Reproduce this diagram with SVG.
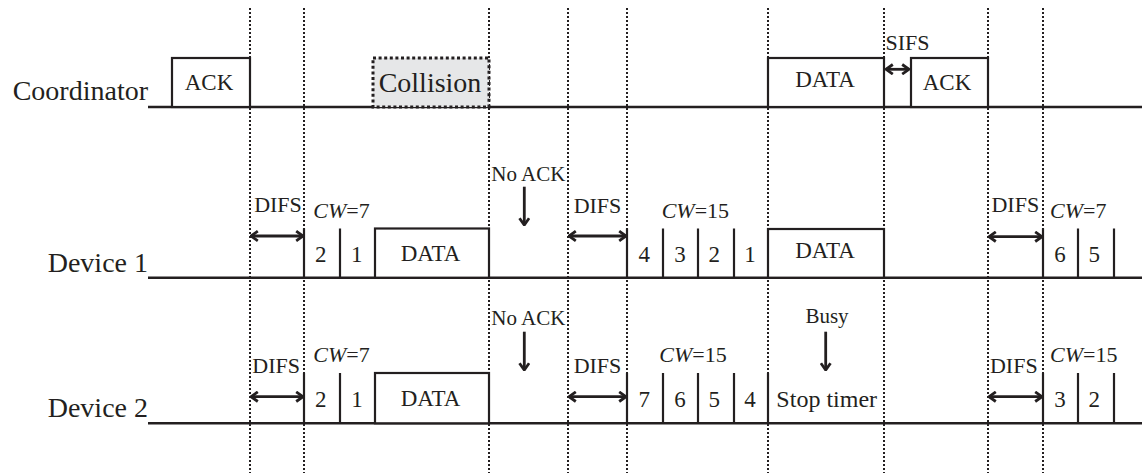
<svg xmlns="http://www.w3.org/2000/svg" width="1142" height="473" viewBox="0 0 1142 473">
<defs>
<style>
.bg{fill:#ffffff}
.t{font-family:"Liberation Serif","Times New Roman",serif;fill:#231f20}
.lab{font-size:28px;text-anchor:end}
.box{font-size:23px;text-anchor:middle}
.sm{font-size:22px}
.mid{text-anchor:middle}
.dot{stroke:#231f20;stroke-width:2;stroke-dasharray:2 2;fill:none}
.base{stroke:#231f20;stroke-width:2.6;fill:none}
.frame{stroke:#231f20;stroke-width:2.2;fill:#ffffff}
.slot{stroke:#231f20;stroke-width:2.2;fill:none}
.arr{stroke:#231f20;stroke-width:2.8;fill:none}
.dbl{marker-start:url(#ah);marker-end:url(#ah)}
.one{marker-end:url(#ah)}
</style>
<marker id="ah" viewBox="0 0 9 12" markerWidth="9" markerHeight="12" refX="8" refY="6" orient="auto-start-reverse" markerUnits="userSpaceOnUse">
<path d="M1.2,1.2 L8,6 L1.2,10.8" fill="none" stroke="#231f20" stroke-width="2.8"/>
</marker>
</defs>
<rect class="bg" x="0" y="0" width="1142" height="473"/>

<g id="gridlines">
<line class="dot" x1="250" y1="8" x2="250" y2="473"/>
<line class="dot" x1="304" y1="8" x2="304" y2="473"/>
<line class="dot" x1="489" y1="8" x2="489" y2="473"/>
<line class="dot" x1="568" y1="8" x2="568" y2="473"/>
<line class="dot" x1="627" y1="8" x2="627" y2="473"/>
<line class="dot" x1="768" y1="8" x2="768" y2="473"/>
<line class="dot" x1="884" y1="8" x2="884" y2="473"/>
<line class="dot" x1="988" y1="8" x2="988" y2="473"/>
<line class="dot" x1="1043" y1="8" x2="1043" y2="473"/>
</g>

<g id="coordinator">
<text class="t lab" x="148" y="100">Coordinator</text>
<line class="base" x1="148" y1="107" x2="1142" y2="107"/>
<g id="coord-ack1">
<rect class="frame" x="172" y="58" width="78" height="49"/>
<text class="t box" x="209" y="90">ACK</text>
</g>
<g id="coord-collision">
<rect x="373" y="58" width="116" height="49" fill="#e6e7e8" stroke="#231f20" stroke-width="3" stroke-dasharray="3 2.6"/>
<text class="t mid" x="430" y="91.7" font-size="28">Collision</text>
</g>
<g id="coord-data">
<rect class="frame" x="768" y="58" width="116" height="49"/>
<text class="t box" x="825" y="87.3">DATA</text>
</g>
<g id="coord-ack2">
<rect class="frame" x="911" y="58" width="77" height="49"/>
<text class="t box" x="947" y="90">ACK</text>
</g>
<text class="t sm mid" x="907.5" y="50">SIFS</text>
</g>

<g id="device1">
<text class="t lab" x="148" y="271.7">Device 1</text>
<line class="base" x1="148" y1="277.7" x2="1142" y2="277.7"/>
<text class="t sm mid" x="278" y="212.3">DIFS</text>
<text class="t sm" x="313.3" y="218.3"><tspan font-style="italic">CW</tspan>=7</text>
<g id="d1-slots1">
<line class="slot" x1="304" y1="228.5" x2="304" y2="277.7"/>
<line class="slot" x1="340" y1="228.5" x2="340" y2="277.7"/>
<text class="t box" x="320.7" y="261.7">2</text>
<text class="t box" x="356.7" y="261.7">1</text>
</g>
<g id="d1-data1">
<rect class="frame" x="375" y="228.5" width="114" height="49.2"/>
<text class="t box" x="430.5" y="260.7">DATA</text>
</g>
<text class="t mid" x="528.3" y="180.7" font-size="21">No ACK</text>
<text class="t sm mid" x="597.5" y="212.7">DIFS</text>
<text class="t sm" x="661.7" y="218.3"><tspan font-style="italic">CW</tspan>=15</text>
<g id="d1-slots2">
<line class="slot" x1="627" y1="228.5" x2="627" y2="277.7"/>
<line class="slot" x1="663" y1="228.5" x2="663" y2="277.7"/>
<line class="slot" x1="698" y1="228.5" x2="698" y2="277.7"/>
<line class="slot" x1="734" y1="228.5" x2="734" y2="277.7"/>
<text class="t box" x="644.3" y="261.7">4</text>
<text class="t box" x="680" y="261.7">3</text>
<text class="t box" x="714.3" y="261.7">2</text>
<text class="t box" x="750" y="261.7">1</text>
</g>
<g id="d1-data2">
<rect class="frame" x="768" y="229" width="116" height="48.7"/>
<text class="t box" x="825" y="258.3">DATA</text>
</g>
<text class="t sm mid" x="1015.3" y="211.7">DIFS</text>
<text class="t sm" x="1050" y="218.3"><tspan font-style="italic">CW</tspan>=7</text>
<g id="d1-slots3">
<line class="slot" x1="1043" y1="228.5" x2="1043" y2="277.7"/>
<line class="slot" x1="1078" y1="228.5" x2="1078" y2="277.7"/>
<line class="slot" x1="1114" y1="228.5" x2="1114" y2="277.7"/>
<text class="t box" x="1060" y="261.7">6</text>
<text class="t box" x="1094.3" y="261.7">5</text>
</g>
</g>

<g id="device2">
<text class="t lab" x="148" y="417.3">Device 2</text>
<line class="base" x1="148" y1="423.3" x2="1142" y2="423.3"/>
<text class="t sm mid" x="276.2" y="373.3">DIFS</text>
<text class="t sm" x="313.3" y="362.3"><tspan font-style="italic">CW</tspan>=7</text>
<g id="d2-slots1">
<line class="slot" x1="304" y1="373" x2="304" y2="423.3"/>
<line class="slot" x1="340" y1="373" x2="340" y2="423.3"/>
<text class="t box" x="320.7" y="406.7">2</text>
<text class="t box" x="357" y="406.7">1</text>
</g>
<g id="d2-data">
<rect class="frame" x="375" y="373" width="114" height="50.3"/>
<text class="t box" x="430.5" y="406">DATA</text>
</g>
<text class="t mid" x="528.3" y="325" font-size="21">No ACK</text>
<text class="t sm mid" x="597.5" y="373.3">DIFS</text>
<text class="t sm" x="659.3" y="361.7"><tspan font-style="italic">CW</tspan>=15</text>
<g id="d2-slots2">
<line class="slot" x1="627" y1="373" x2="627" y2="423.3"/>
<line class="slot" x1="663" y1="373" x2="663" y2="423.3"/>
<line class="slot" x1="698" y1="373" x2="698" y2="423.3"/>
<line class="slot" x1="734" y1="373" x2="734" y2="423.3"/>
<line class="slot" x1="768" y1="373" x2="768" y2="423.3"/>
<text class="t box" x="644.3" y="406.7">7</text>
<text class="t box" x="680" y="406.7">6</text>
<text class="t box" x="714.3" y="406.7">5</text>
<text class="t box" x="750" y="406.7">4</text>
</g>
<text class="t mid" x="827" y="323.3" font-size="21">Busy</text>
<text class="t mid" x="826.7" y="406.7" font-size="24">Stop timer</text>
<text class="t sm mid" x="1013.8" y="373.3">DIFS</text>
<text class="t sm" x="1050" y="361.7"><tspan font-style="italic">CW</tspan>=15</text>
<g id="d2-slots3">
<line class="slot" x1="1043" y1="373" x2="1043" y2="423.3"/>
<line class="slot" x1="1078" y1="373" x2="1078" y2="423.3"/>
<line class="slot" x1="1114" y1="373" x2="1114" y2="423.3"/>
<text class="t box" x="1060" y="406.7">3</text>
<text class="t box" x="1094.3" y="406.7">2</text>
</g>
</g>

<g id="connectors">
<line class="arr dbl" x1="886" y1="69.3" x2="909" y2="69.3"/>
<line class="arr dbl" x1="251" y1="236" x2="303" y2="236"/>
<line class="arr dbl" x1="569" y1="236" x2="626" y2="236"/>
<line class="arr dbl" x1="989" y1="236.7" x2="1042" y2="236.7"/>
<line class="arr dbl" x1="251" y1="396.7" x2="303" y2="396.7"/>
<line class="arr dbl" x1="569" y1="396.7" x2="626" y2="396.7"/>
<line class="arr dbl" x1="989" y1="396.7" x2="1042" y2="396.7"/>
<line class="arr one" x1="524.3" y1="186.7" x2="524.3" y2="225"/>
<line class="arr one" x1="524.3" y1="331.7" x2="524.3" y2="370"/>
<line class="arr one" x1="825.7" y1="331.7" x2="825.7" y2="370"/>
</g>
</svg>
